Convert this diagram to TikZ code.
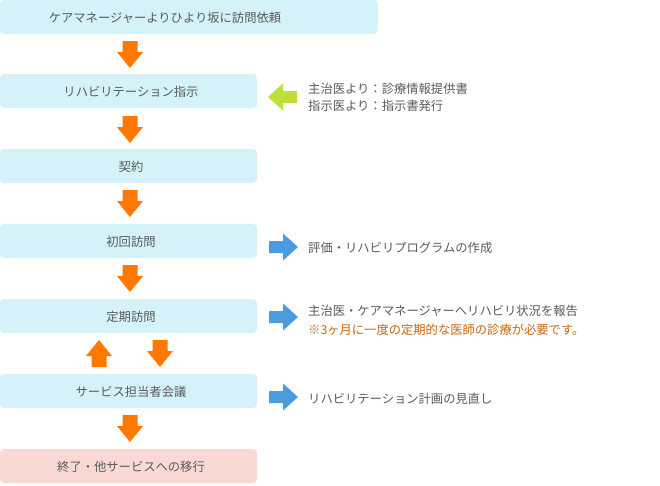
\documentclass[tikz,border=0pt]{standalone}
\usepackage{fontspec}
\setmainfont{Noto Sans CJK JP}
\definecolor{boxcyan}{HTML}{D4F2F8}
\definecolor{boxpink}{HTML}{FAD9D5}
\definecolor{arrorange}{HTML}{FF7800}
\definecolor{arrgreen}{HTML}{BEDF3A}
\definecolor{arrblue}{HTML}{4A9BE0}
\definecolor{txtgray}{HTML}{5A5A5A}
\definecolor{notecol}{HTML}{C8650F}
\tikzset{
  stepbox/.style={fill=boxcyan, rounded corners=4pt},
  endbox/.style={fill=boxpink, rounded corners=4pt},
  boxtext/.style={text=txtgray, font=\fontsize{12.3pt}{14pt}\selectfont, inner sep=0pt},
  sidetext/.style={text=txtgray, font=\fontsize{12.3pt}{14pt}\selectfont, inner sep=0pt, anchor=west},
  downarr/.pic={\fill[arrorange] (-7.5,0) -- (7.5,0) -- (7.5,11) -- (13,11) -- (0,27) -- (-13,11) -- (-7.5,11) -- cycle;},
  uparr/.pic={\fill[arrorange] (-7.5,0) -- (7.5,0) -- (7.5,-11) -- (13,-11) -- (0,-27) -- (-13,-11) -- (-7.5,-11) -- cycle;},
  rightarr/.pic={\fill[arrblue] (0,-6) -- (14,-6) -- (14,-13.5) -- (29,0) -- (14,13.5) -- (14,6) -- (0,6) -- cycle;},
  leftarr/.pic={\fill[arrgreen] (0,-6) -- (-14,-6) -- (-14,-13.5) -- (-29,0) -- (-14,13.5) -- (-14,6) -- (0,6) -- cycle;}
}
\begin{document}
\begin{tikzpicture}[x=1pt,y=-1pt]
\useasboundingbox (0,0) rectangle (660,485);
% boxes
\fill[stepbox] (0,0) rectangle (378,34);
\fill[stepbox] (0,74) rectangle (257,108);
\fill[stepbox] (0,149) rectangle (257,183);
\fill[stepbox] (0,224) rectangle (257,258);
\fill[stepbox] (0,299) rectangle (257,333);
\fill[stepbox] (0,374) rectangle (257,408);
\fill[endbox] (0,449) rectangle (257,483);
% box texts
\node[boxtext] (t1) at (165,18) {ケアマネージャーよりひより坂に訪問依頼};
\node[boxtext] (t2) at (131,92) {リハビリテーション指示};
\node[boxtext] (t3) at (131,167) {契約};
\node[boxtext] (t4) at (131,242) {初回訪問};
\node[boxtext] (t5) at (131,317) {定期訪問};
\node[boxtext] (t6) at (131,392) {サービス担当者会議};
\node[boxtext] (t7) at (131,467) {終了・他サービスへの移行};
% orange arrows
\pic at (130,41) {downarr};
\pic at (130,116) {downarr};
\pic at (130,190) {downarr};
\pic at (130,265) {downarr};
\pic at (99,367) {uparr};
\pic at (160,340) {downarr};
\pic at (130,415) {downarr};
% side arrows
\pic at (297,97) {leftarr};
\pic at (269,247) {rightarr};
\pic at (269,317) {rightarr};
\pic at (269,397) {rightarr};
% side texts
\node[sidetext] (s1) at (308,89) {主治医より：診療情報提供書};
\node[sidetext] (s2) at (308,106) {指示医より：指示書発行};
\node[sidetext] (s3) at (308,248) {評価・リハビリプログラムの作成};
\node[sidetext] (s4) at (308,311) {主治医・ケアマネージャーへリハビリ状況を報告};
\node[sidetext, text=notecol] (s5) at (308,330) {※3ヶ月に一度の定期的な医師の診療が必要です。};
\node[sidetext] (s6) at (308,399) {リハビリテーション計画の見直し};
\end{tikzpicture}
\end{document}
